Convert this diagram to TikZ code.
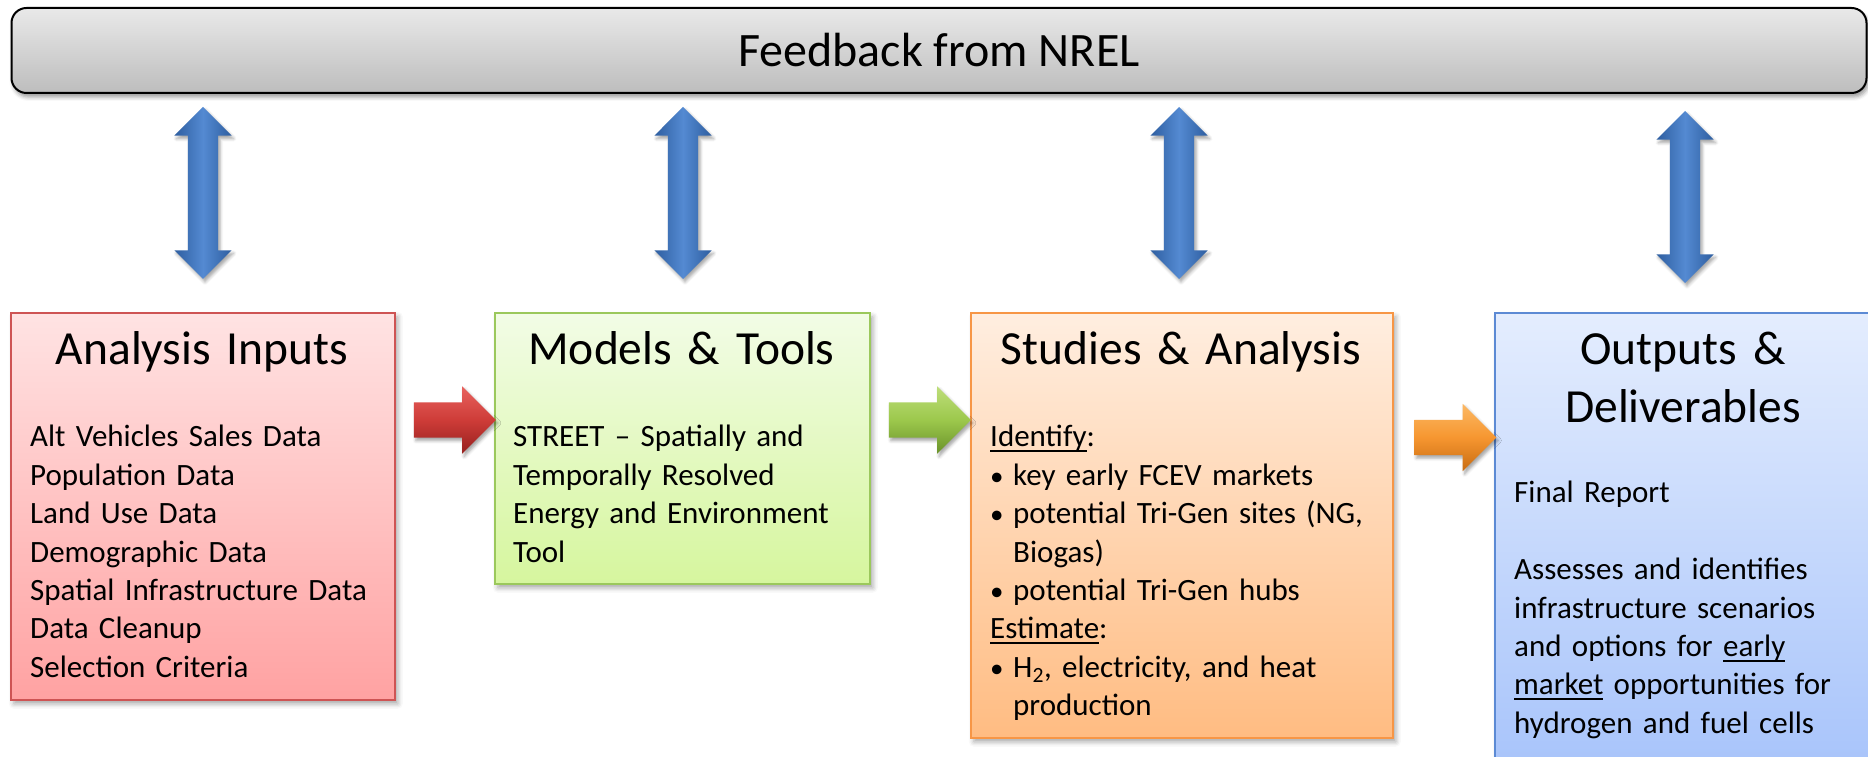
\documentclass[tikz,border=0pt]{standalone}
\usepackage{fontspec}
\setmainfont{Carlito}
\usepackage{tikz}
\usepackage{xcolor}
\usetikzlibrary{
  arrows.meta,
  positioning,
  shapes.arrows,
  shadows.blur,
}
\definecolor{barTop}{RGB}{233,233,233}
\definecolor{barBot}{RGB}{189,189,189}
\definecolor{inTop}{RGB}{255,227,227}
\definecolor{inBot}{RGB}{255,162,162}
\definecolor{inLine}{RGB}{206,84,84}
\definecolor{modTop}{RGB}{242,252,230}
\definecolor{modBot}{RGB}{214,246,158}
\definecolor{modLine}{RGB}{155,200,92}
\definecolor{stuTop}{RGB}{255,238,224}
\definecolor{stuBot}{RGB}{255,188,130}
\definecolor{stuLine}{RGB}{247,150,70}
\definecolor{outTop}{RGB}{228,237,254}
\definecolor{outBot}{RGB}{162,192,250}
\definecolor{outLine}{RGB}{92,138,212}
\definecolor{fbLight}{RGB}{84,138,210}
\definecolor{fbDark}{RGB}{46,94,160}
\definecolor{redLight}{RGB}{232,98,94}
\definecolor{redMid}{RGB}{206,60,56}
\definecolor{redDark}{RGB}{150,32,30}
\definecolor{grnLight}{RGB}{190,222,122}
\definecolor{grnMid}{RGB}{156,200,76}
\definecolor{grnDark}{RGB}{106,146,42}
\definecolor{orgLight}{RGB}{252,184,100}
\definecolor{orgMid}{RGB}{246,150,48}
\definecolor{orgDark}{RGB}{200,108,18}

% underline that sits just under the baseline
\newcommand{\ulword}[1]{\leavevmode\setbox0\hbox{#1}\rlap{\rule[-5pt]{\wd0}{2pt}}\box0\relax}
\newcommand{\bul}{\makebox[23pt][l]{\fontsize{27}{0}\selectfont\textbullet}}

\tikzset{
  fbbar/.style={
    rectangle, draw=black, line width=2pt, rounded corners=15pt,
    top color=barTop, bottom color=barBot,
    minimum width=1855pt, minimum height=85pt, inner sep=0pt,
    font=\fontsize{48}{57.6}\selectfont,
    blur shadow={shadow xshift=2pt, shadow yshift=-4pt, shadow blur radius=4pt, shadow opacity=40}
  },
  stagebox/.style={
    rectangle, line width=1.6pt, inner sep=0pt, anchor=north west,
    blur shadow={shadow xshift=3pt, shadow yshift=-4pt, shadow blur radius=5pt, shadow opacity=35}
  },
  titletext/.style={
    anchor=base, inner sep=0pt, text width=370pt, align=center,
    font=\fontsize{47.5}{57.6}\selectfont
  },
  bodytext/.style={
    anchor=base west, inner sep=0pt, text width=400pt, align=left,
    font=\fontsize{31}{38.4}\selectfont
  },
  fbarrow/.style={
    double arrow, shape border rotate=90, inner sep=15pt,
    minimum width=57pt, minimum height=172pt, double arrow head extend=13.5pt,
    left color=fbDark, right color=fbDark, middle color=fbLight,
    blur shadow={shadow xshift=2pt, shadow yshift=-3pt, shadow blur radius=3pt, shadow opacity=35}
  },
  flowarrow/.style={
    single arrow, inner sep=17.5pt,
    minimum width=67pt, minimum height=82pt, single arrow head extend=16pt,
    blur shadow={shadow xshift=2pt, shadow yshift=-3pt, shadow blur radius=3pt, shadow opacity=35}
  },
}

\begin{document}
\begin{tikzpicture}[x=1pt, y=1pt]
  \useasboundingbox (0,0) rectangle (1868,757);

  % ── Feedback bar ──
  \node[fbbar] (FB) at (939, 706.5) {Feedback from NREL};

  % ── Feedback arrows ──
  \node[fbarrow] (uAI) at (203, 564) {};
  \node[fbarrow] (uMT) at (683, 564) {};
  \node[fbarrow] (uSA) at (1179, 564) {};
  \node[fbarrow] (uOD) at (1685, 560) {};

  % ── Stage boxes ──
  \node[stagebox, draw=inLine,  top color=inTop,  bottom color=inBot,
        minimum width=384pt, minimum height=387pt] (AI) at (10, 445) {};
  \node[stagebox, draw=modLine, top color=modTop, bottom color=modBot,
        minimum width=375pt, minimum height=271pt] (MT) at (494, 445) {};
  \node[stagebox, draw=stuLine, top color=stuTop, bottom color=stuBot,
        minimum width=422pt, minimum height=425pt] (SA) at (970, 445) {};
  \node[stagebox, draw=outLine, top color=outTop, bottom color=outBot,
        minimum width=378pt, minimum height=500pt] (OD) at (1494, 445) {};

  % ── Flow arrows ──
  \node[flowarrow, top color=redLight, bottom color=redDark, middle color=redMid] (aAI) at (446, 337) {};
  \node[flowarrow, top color=grnLight, bottom color=grnDark, middle color=grnMid] (aMT) at (921, 337) {};
  \node[flowarrow, top color=orgLight, bottom color=orgDark, middle color=orgMid] (aSA) at (1446.5, 319.5) {};

  % ── Titles ──
  \node[titletext] (tAI) at (202, 392)  {Analysis Inputs};
  \node[titletext] (tMT) at (681.5, 392) {Models \& Tools};
  \node[titletext] (tSA) at (1181, 392) {Studies \& Analysis};
  \node[titletext] (tOD) at (1683, 392) {Outputs \&\\Deliverables};

  % ── Box contents ──
  \node[bodytext] (bAI) at (30, 310) {Alt Vehicles Sales Data\\
    Population Data\\
    Land Use Data\\
    Demographic Data\\
    Spatial Infrastructure Data\\
    Data Cleanup\\
    Selection Criteria};
  \node[bodytext] (bMT) at (513, 310) {STREET -- Spatially and\\
    Temporally Resolved\\
    Energy and Environment\\
    Tool};
  \node[bodytext] (bSA) at (990, 310) {\ulword{Identify}:\\
    \bul key early FCEV markets\\
    \bul potential Tri-Gen sites (NG,\\
    \hspace*{23pt}Biogas)\\
    \bul potential Tri-Gen hubs\\
    \ulword{Estimate}:\\
    \bul H\textsubscript{2}, electricity, and heat\\
    \hspace*{23pt}production};
  \node[bodytext] (bOD) at (1514, 254) {Final Report\\[38.4pt]
    Assesses and identifies\\
    infrastructure scenarios\\
    and options for \ulword{early}\\
    \ulword{market} opportunities for\\
    hydrogen and fuel cells};

\end{tikzpicture}
\end{document}
